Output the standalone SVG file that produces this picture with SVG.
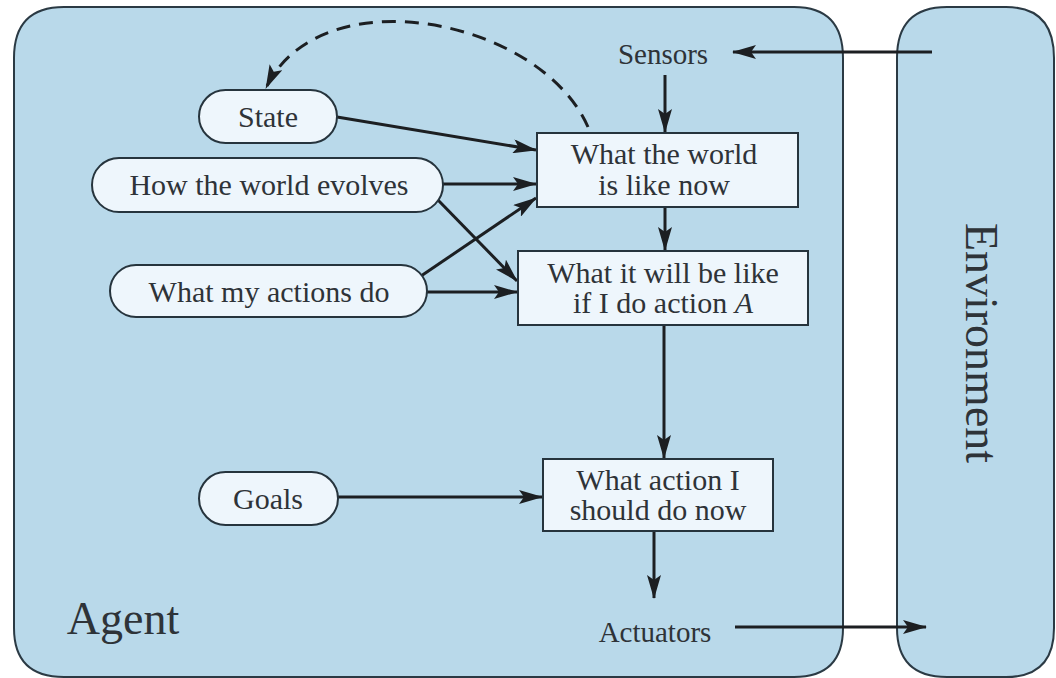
<svg xmlns="http://www.w3.org/2000/svg" width="1056" height="678" viewBox="0 0 1056 678">
  <style>
    .frame { fill: #b9d9ea; stroke: #2b3a44; stroke-width: 2; }
    .pill, .box { fill: #eef6fc; stroke: #26343d; stroke-width: 2; }
    text { font-family: "Liberation Serif", "Times New Roman", serif; fill: #2e3338; text-anchor: middle; }
    .node { font-size: 30px; }
    .port { font-size: 29px; }
    .big { font-size: 46px; }
    .edge { fill: none; stroke: #1c1f22; stroke-width: 3; }
    .dash { fill: none; stroke: #1c1f22; stroke-width: 3; stroke-dasharray: 14 9; }
  </style>
  <defs>
    <marker id="head" viewBox="0 0 24 14" refX="23" refY="7" markerWidth="24" markerHeight="14" markerUnits="userSpaceOnUse" orient="auto">
      <path d="M0,0 L24,7 L0,14 L5,7 Z" fill="#1c1f22"/>
    </marker>
  </defs>

  <rect width="1056" height="678" fill="#ffffff"/>

  <!-- agent and environment frames -->
  <g id="agent">
    <path class="frame" d="M14,58 Q14,7 64,7 L794,7 Q843,7 843,58 L843,628 Q843,677 794,677 L64,677 Q14,677 14,628 Z"/>
    <text class="big" x="123" y="634">Agent</text>
  </g>
  <g id="environment">
    <path class="frame" d="M897,58 Q897,7 947,7 L1006,7 Q1054,7 1054,58 L1054,628 Q1054,677 1006,677 L947,677 Q897,677 897,628 Z"/>
    <text class="big" transform="translate(966,343) rotate(90)">Environment</text>
  </g>

  <!-- connectors -->
  <g id="connectors">
    <line class="edge" x1="932" y1="52" x2="733" y2="52" marker-end="url(#head)"/>
    <line class="edge" x1="665" y1="75" x2="665" y2="132" marker-end="url(#head)"/>
    <line class="edge" x1="337" y1="117" x2="536" y2="150" marker-end="url(#head)"/>
    <line class="edge" x1="443" y1="184" x2="536" y2="184" marker-end="url(#head)"/>
    <line class="edge" x1="437" y1="199" x2="517" y2="281" marker-end="url(#head)"/>
    <line class="edge" x1="421" y1="276" x2="536" y2="198" marker-end="url(#head)"/>
    <line class="edge" x1="427" y1="292" x2="517" y2="292" marker-end="url(#head)"/>
    <line class="edge" x1="665" y1="207" x2="665" y2="250" marker-end="url(#head)"/>
    <line class="edge" x1="664" y1="325" x2="664" y2="458" marker-end="url(#head)"/>
    <line class="edge" x1="338" y1="497" x2="542" y2="497" marker-end="url(#head)"/>
    <line class="edge" x1="654" y1="531" x2="654" y2="598" marker-end="url(#head)"/>
    <line class="edge" x1="735" y1="627" x2="926" y2="627" marker-end="url(#head)"/>
    <path class="dash" d="M588,127 C540,18 320,-25 266,88" marker-end="url(#head)"/>
  </g>

  <!-- labels on the agent boundary -->
  <g id="sensors"><text class="port" x="663" y="64">Sensors</text></g>
  <g id="actuators"><text class="port" x="655" y="642">Actuators</text></g>

  <!-- knowledge nodes -->
  <g id="state">
    <rect class="pill" x="199" y="90" width="138" height="53" rx="26.5"/>
    <text class="node" x="268" y="127">State</text>
  </g>
  <g id="world-evolves">
    <rect class="pill" x="92" y="158" width="351" height="54" rx="27"/>
    <text class="node" x="269" y="195">How the world evolves</text>
  </g>
  <g id="actions-do">
    <rect class="pill" x="110" y="265" width="317" height="52" rx="26"/>
    <text class="node" x="269" y="302">What my actions do</text>
  </g>
  <g id="goals">
    <rect class="pill" x="199" y="472" width="139" height="53" rx="26.5"/>
    <text class="node" x="268" y="509">Goals</text>
  </g>

  <!-- processing boxes -->
  <g id="world-now">
    <rect class="box" x="537" y="133" width="261" height="74"/>
    <text class="node" x="664" y="164">What the world</text>
    <text class="node" x="664" y="195">is like now</text>
  </g>
  <g id="will-be">
    <rect class="box" x="518" y="251" width="290" height="74"/>
    <text class="node" x="663" y="283">What it will be like</text>
    <text class="node" x="663" y="313">if I do action <tspan font-style="italic">A</tspan></text>
  </g>
  <g id="action-now">
    <rect class="box" x="543" y="459" width="230" height="72"/>
    <text class="node" x="658" y="490">What action I</text>
    <text class="node" x="658" y="520">should do now</text>
  </g>
</svg>
